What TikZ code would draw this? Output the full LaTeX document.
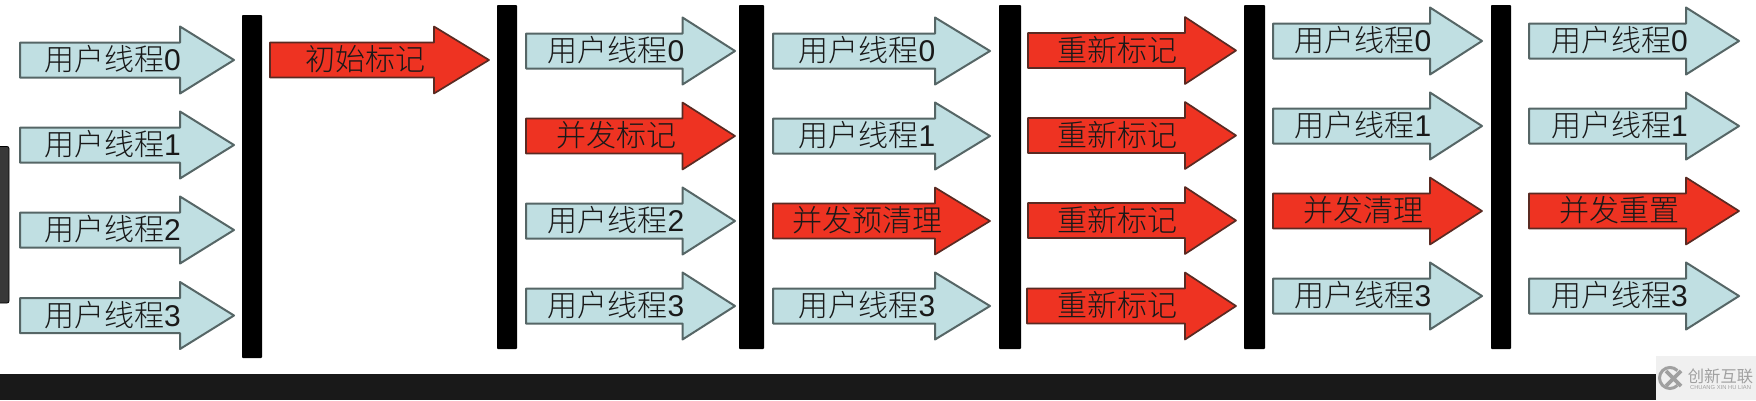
\documentclass[tikz,border=0pt]{standalone}
\usepackage{fontspec}
\setmainfont{Liberation Sans}
\newfontfamily\cjk{Noto Sans CJK SC Light}
\newfontfamily\cjkmark{Noto Sans CJK SC}
\definecolor{threadfill}{HTML}{C0DFE2}
\definecolor{threadline}{HTML}{566666}
\definecolor{gcfill}{HTML}{EE3322}
\definecolor{gcline}{HTML}{5A2A22}
\definecolor{footdark}{HTML}{191919}
\definecolor{markgrey}{HTML}{A0A0A0}
\tikzset{
  threadarrow/.style={fill=threadfill,draw=threadline,line width=2pt,line join=round},
  gcarrow/.style={fill=gcfill,draw=gcline,line width=1.7pt,line join=round},
  arrowlabel/.style={inner sep=0pt,font=\fontsize{30}{30}\selectfont,text=black!90},
  barnode/.style={fill=black,inner sep=0pt,rounded corners=0.8pt}
}
% name, left, base, tip, centre y, style, text
\newcommand{\flowarrow}[7]{%
  \pgfmathsetmacro{\labx}{(#2+#4)/2-14.5}%
  \path[#6] (#2,#5-17.5) -- (#3,#5-17.5) -- (#3,#5-33.5) -- (#4,#5) -- (#3,#5+33.5) -- (#3,#5+17.5) -- (#2,#5+17.5) -- cycle;
  \node[arrowlabel] (#1) at (\labx,#5-0.5) {#7};%
}
\newcommand{\thrd}[1]{{\cjk 用户线程}#1}
% name, left, right, top, bottom
\newcommand{\stopbar}[5]{%
  \node[barnode,minimum width=#3pt-#2pt,minimum height=#5pt-#4pt] (#1) at ({(#2+#3)/2},{(#4+#5)/2}) {};%
}
\begin{document}
\begin{tikzpicture}[x=1pt,y=-1pt]
\useasboundingbox (0,0) rectangle (1756,400);
\fill[white] (0,0) rectangle (1756,400);
% page furniture
\fill[footdark] (0,374) rectangle (1656,400);
\fill[fill=white!94!black] (1656,356) rectangle (1756,400);
\fill[fill=black!78,draw=black,line width=0.8pt,rounded corners=2pt] (-4,146.5) rectangle (9,303);
% column 1
\flowarrow{a0}{20}{180}{234}{60}{threadarrow}{\thrd{0}}
\flowarrow{a1}{20}{180}{234}{145}{threadarrow}{\thrd{1}}
\flowarrow{a2}{20}{180}{234}{230}{threadarrow}{\thrd{2}}
\flowarrow{a3}{20}{180}{234}{315.5}{threadarrow}{\thrd{3}}
\stopbar{b1}{242}{262}{15}{358}
% column 2
\flowarrow{c0}{270}{434}{489}{60}{gcarrow}{{\cjk 初始标记}}
\stopbar{b2}{497}{517}{5}{349}
% column 3
\flowarrow{d0}{526}{682.5}{735}{51}{threadarrow}{\thrd{0}}
\flowarrow{d1}{526}{682.5}{735}{136}{gcarrow}{{\cjk 并发标记}}
\flowarrow{d2}{526}{682.5}{735}{221}{threadarrow}{\thrd{2}}
\flowarrow{d3}{526}{682.5}{735}{306}{threadarrow}{\thrd{3}}
\stopbar{b3}{739}{764}{5}{349}
% column 4
\flowarrow{e0}{773}{935}{990}{51}{threadarrow}{\thrd{0}}
\flowarrow{e1}{773}{935}{990}{136}{threadarrow}{\thrd{1}}
\flowarrow{e2}{773}{935}{990}{221}{gcarrow}{{\cjk 并发预清理}}
\flowarrow{e3}{773}{935}{990}{306}{threadarrow}{\thrd{3}}
\stopbar{b4}{999}{1021}{5}{349}
% column 5
\flowarrow{f0}{1028}{1185}{1236}{50.5}{gcarrow}{{\cjk 重新标记}}
\flowarrow{f1}{1028}{1185}{1236}{135.5}{gcarrow}{{\cjk 重新标记}}
\flowarrow{f2}{1028}{1185}{1236}{220.5}{gcarrow}{{\cjk 重新标记}}
\flowarrow{f3}{1027}{1185}{1236}{306}{gcarrow}{{\cjk 重新标记}}
\stopbar{b5}{1244}{1265}{5}{349}
% column 6
\flowarrow{g0}{1273}{1430}{1482}{41}{threadarrow}{\thrd{0}}
\flowarrow{g1}{1273}{1430}{1482}{126}{threadarrow}{\thrd{1}}
\flowarrow{g2}{1273}{1430}{1482}{211}{gcarrow}{{\cjk 并发清理}}
\flowarrow{g3}{1273}{1430}{1482}{296}{threadarrow}{\thrd{3}}
\stopbar{b6}{1491}{1511}{5}{349}
% column 7
\flowarrow{h0}{1529}{1686}{1739}{41}{threadarrow}{\thrd{0}}
\flowarrow{h1}{1529}{1686}{1739}{126}{threadarrow}{\thrd{1}}
\flowarrow{h2}{1529}{1686}{1739}{211}{gcarrow}{{\cjk 并发重置}}
\flowarrow{h3}{1529}{1686}{1739}{296}{threadarrow}{\thrd{3}}
% watermark
\draw[markgrey,line width=3pt] (1677.4,385.4) arc (45:315:10.5);
\draw[markgrey,line width=3.6pt] (1666,371) -- (1681,386) (1666,386) -- (1681,371);
\node[inner sep=0pt,text=markgrey,font=\cjkmark\fontsize{16.3}{16.3}\selectfont] (wm1) at (1720.5,376) {创新互联};
\node[inner sep=0pt,text=markgrey,font=\fontsize{5.8}{6}\selectfont] (wm2) at (1720.5,387.5) {CHUANG XIN HU LIAN};
\end{tikzpicture}
\end{document}
